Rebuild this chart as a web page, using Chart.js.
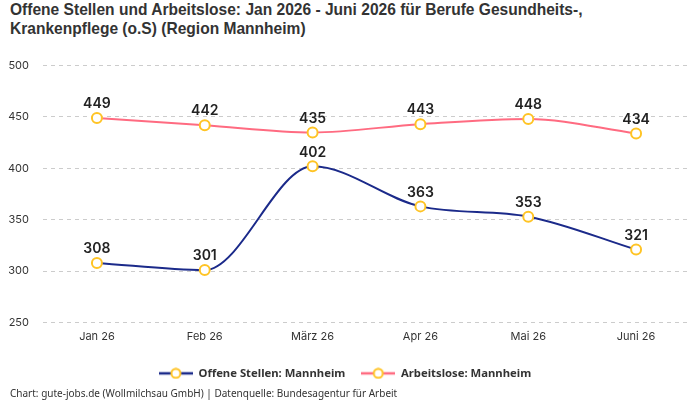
<!DOCTYPE html>
<html>
<head>
<meta charset="utf-8">
<script src="https://cdn.jsdelivr.net/npm/chart.js@4"></script>
<style>
    body { margin: 0; background: #fff; }
    #wrap { width: 700px; height: 400px; position: relative; overflow: hidden; }
    #title { position: absolute; left: 10px; top: 0px; font-family: "Liberation Sans", sans-serif; font-weight: bold; font-size: 17px; line-height: 19px; color: #333; white-space: nowrap; transform: scaleX(0.915); transform-origin: left top; }
    #chartBox { position: absolute; left: 0; top: 45px; width: 700px; height: 344px; }
    #footer { position: absolute; left: 10px; top: 386px; font-family: "Noto Sans", sans-serif; font-size: 10px; color: #333; }
</style>
</head>
<body>
<div id="wrap">
    <div id="title">Offene Stellen und Arbeitslose: Jan 2026 - Juni 2026 für Berufe Gesundheits-,<br>Krankenpflege (o.S) (Region Mannheim)</div>
    <div id="chartBox"><canvas id="chartCanvas"></canvas></div>
    <div id="footer">Chart: gute-jobs.de (Wollmilchsau GmbH) | Datenquelle: Bundesagentur für Arbeit</div>
</div>
<script>
// Chart data
const months = ['Jan 26', 'Feb 26', 'März 26', 'Apr 26', 'Mai 26', 'Juni 26'];
const offeneStellen = [308, 301, 402, 363, 353, 321];
const arbeitslose = [449, 442, 435, 443, 448, 434];
const yTicks = [250, 300, 350, 400, 450, 500];

const blue = '#1b2a8a';
const pink = '#ff6b81';
const yellow = '#ffc425';

// Legend marker: line with a ring in the middle
function legendIcon(color) {
    const c = document.createElement('canvas');
    c.width = 34;
    c.height = 12;
    const g = c.getContext('2d');
    g.strokeStyle = color;
    g.lineWidth = 2.5;
    g.beginPath();
    g.moveTo(0, 6);
    g.lineTo(34, 6);
    g.stroke();
    g.beginPath();
    g.arc(17, 6, 4.5, 0, Math.PI * 2);
    g.fillStyle = '#fff';
    g.fill();
    g.strokeStyle = yellow;
    g.lineWidth = 2;
    g.stroke();
    return c;
}

// Draws the value above each point
const valueLabels = {
    id: 'valueLabels',
    afterDatasetsDraw(chart) {
        const ctx = chart.ctx;
        ctx.save();
        ctx.font = '600 14px Inter, "Noto Sans", sans-serif';
        ctx.fillStyle = '#222';
        ctx.textAlign = 'center';
        ctx.textBaseline = 'bottom';
        chart.data.datasets.forEach((ds, i) => {
            chart.getDatasetMeta(i).data.forEach((pt, j) => {
                ctx.fillText(ds.data[j], pt.x, pt.y - 7);
            });
        });
        ctx.restore();
    }
};

window.onload = function() {
    const ctx = document.getElementById('chartCanvas').getContext('2d');
    new Chart(ctx, {
        type: 'line',
        data: {
            labels: months,
            datasets: [
                {
                    label: 'Offene Stellen: Mannheim',
                    data: offeneStellen,
                    borderColor: blue,
                    borderWidth: 2,
                    cubicInterpolationMode: 'monotone',
                    pointRadius: 5,
                    pointBorderWidth: 2,
                    pointBorderColor: yellow,
                    pointBackgroundColor: '#fff'
                },
                {
                    label: 'Arbeitslose: Mannheim',
                    data: arbeitslose,
                    borderColor: pink,
                    borderWidth: 2,
                    cubicInterpolationMode: 'monotone',
                    pointRadius: 5,
                    pointBorderWidth: 2,
                    pointBorderColor: yellow,
                    pointBackgroundColor: '#fff'
                }
            ]
        },
        options: {
            responsive: true,
            maintainAspectRatio: false,
            animation: false,
            layout: { padding: { left: 0, right: 10, top: 0, bottom: 0 } },
            scales: {
                x: {
                    offset: true,
                    grid: { display: false },
                    border: { display: false },
                    ticks: { color: '#333', font: { family: 'Inter, "Noto Sans", sans-serif', size: 11 }, padding: 0 },
                    afterFit: function(axis) { axis.height += 8; }
                },
                y: {
                    min: 250,
                    max: 500,
                    afterBuildTicks: function(axis) {
                        axis.ticks = yTicks.map(v => ({ value: v }));
                    },
                    afterFit: function(axis) { axis.width = 43; },
                    grid: { color: '#cccccc', drawTicks: false },
                    border: { display: false, dash: [4, 4] },
                    ticks: { color: '#333', font: { family: 'Inter, "Noto Sans", sans-serif', size: 11 }, padding: 14 }
                }
            },
            plugins: {
                legend: {
                    position: 'bottom',
                    labels: {
                        usePointStyle: true,
                        pointStyleWidth: 34,
                        color: '#333',
                        font: { family: '"Noto Sans", sans-serif', size: 11.3, weight: 'bold' },
                        padding: 16,
                        generateLabels: function(chart) {
                            return chart.data.datasets.map((ds, i) => ({
                                text: ds.label,
                                pointStyle: legendIcon(ds.borderColor),
                                fillStyle: ds.borderColor,
                                strokeStyle: ds.borderColor,
                                lineWidth: 0,
                                hidden: false,
                                datasetIndex: i,
                                fontColor: '#333'
                            }));
                        }
                    }
                },
                tooltip: { enabled: false }
            }
        },
        plugins: [valueLabels]
    });
};
</script>
</body>
</html>
